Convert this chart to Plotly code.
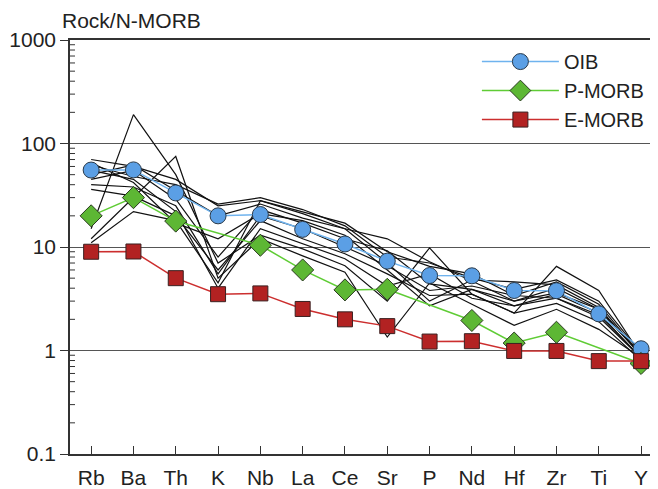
import plotly.graph_objects as go

elements = ["Rb", "Ba", "Th", "K", "Nb", "La", "Ce", "Sr", "P", "Nd", "Hf", "Zr", "Ti", "Y"]

oib = [55.4, 55.6, 33.3, 20.0, 20.6, 14.8, 10.7, 7.3, 5.3, 5.27, 3.8, 3.78, 2.26, 1.04]
p_morb = [20.0, 30.0, 17.8, None, 10.4, 6.0, 3.85, 3.9, None, 1.95, 1.18, 1.5, None, 0.75]
e_morb = [9.0, 9.05, 5.0, 3.5, 3.56, 2.52, 2.0, 1.72, 1.22, 1.23, 0.99, 0.99, 0.79, 0.79]

samples = [
    [70, 60, 45, 25, 28, 22, 17, 9.0, 6.5, 5.5, 3.4, 4.6, 2.8, 0.90],
    [62, 48, 40, 26, 30, 23, 16, 8.0, 7.0, 5.0, 3.9, 4.8, 3.0, 0.95],
    [50, 62, 35, 20, 26, 19, 15, 12, 7.2, 4.7, 3.0, 4.0, 2.5, 0.90],
    [45, 55, 29, 8.0, 23, 17, 12, 9.2, 4.4, 3.9, 2.7, 3.5, 2.3, 0.85],
    [40, 38, 25, 5.5, 20, 15, 10, 6.6, 3.8, 4.2, 3.4, 3.2, 2.1, 0.85],
    [36, 31, 20, 6.0, 18, 12, 8.6, 5.5, 3.4, 3.5, 2.3, 2.85, 1.9, 0.80],
    [55, 45, 22, 4.0, 15, 10.7, 7.7, 4.2, 5.5, 3.2, 2.7, 3.2, 2.2, 0.85],
    [15, 190, 50, 7.0, 13, 9.6, 6.6, 3.0, 9.8, 3.5, 2.3, 6.5, 3.8, 0.90],
    [12, 30, 75, 5.0, 12, 8.2, 5.7, 1.35, 4.5, 2.8, 1.75, 2.5, 1.6, 0.85],
    [11, 22, 18, 4.5, 28, 21, 15, 7.0, 3.0, 4.8, 4.6, 4.3, 2.6, 0.90],
    [65, 42, 17, 12, 21, 18, 13, 6.0, 2.7, 3.9, 3.0, 3.6, 2.5, 0.92],
]

FONT = "Liberation Sans, Arial, sans-serif"
TXT = "#222222"

fig = go.Figure()

for s in samples:
    fig.add_trace(go.Scatter(
        x=elements, y=s, mode="lines",
        line=dict(color="#111111", width=1.2),
        showlegend=False, hoverinfo="skip",
    ))

fig.add_trace(go.Scatter(
    x=elements, y=oib, mode="lines+markers", name="OIB",
    line=dict(color="#6fb3ee", width=1.5),
    marker=dict(symbol="circle", size=16, color="#5b9fe5",
                line=dict(color="#2a3a4a", width=1)),
))
fig.add_trace(go.Scatter(
    x=elements, y=p_morb, mode="lines+markers", name="P-MORB",
    connectgaps=True,
    line=dict(color="#5fcc35", width=1.5),
    marker=dict(symbol="diamond", size=17, color="#5db734",
                line=dict(color="#2a3a20", width=1)),
))
fig.add_trace(go.Scatter(
    x=elements, y=e_morb, mode="lines+markers", name="E-MORB",
    line=dict(color="#cc2e2e", width=1.5),
    marker=dict(symbol="square", size=15, color="#b22222",
                line=dict(color="#3a2020", width=1)),
))

# minor log ticks (2..9 in each decade), drawn inside the left axis
minor_vals = [m * 10 ** e for e in range(-1, 3) for m in range(2, 10)]
minor_shapes = [
    dict(type="line", xref="paper", yref="y", x0=0, x1=5 / 588,
         y0=v, y1=v, line=dict(color="#333333", width=1))
    for v in minor_vals
]

# page body adds an 8px offset, so the figure is sized to fit the window
fig.update_layout(
    width=650, height=481,
    margin=dict(l=62, r=0, t=32, b=35, autoexpand=False),
    paper_bgcolor="white", plot_bgcolor="white",
    font=dict(family=FONT, size=21, color=TXT),
    showlegend=True,
    legend=dict(
        x=0.692, y=0.995, xanchor="left", yanchor="top",
        bgcolor="rgba(0,0,0,0)", borderwidth=0,
        font=dict(family=FONT, size=20, color=TXT),
        itemwidth=77, tracegroupgap=0,
    ),
    xaxis=dict(
        type="category", categoryorder="array", categoryarray=elements,
        range=[-0.5, 13.4], automargin=False,
        showline=True, linecolor="#333333", linewidth=1.5, mirror=True,
        ticks="inside", ticklen=8, tickcolor="#333333", tickwidth=1.2,
        showgrid=False, zeroline=False,
        tickfont=dict(family=FONT, size=21, color=TXT),
        ticklabelstandoff=4,
    ),
    yaxis=dict(
        type="log", range=[-1, 3], automargin=False,
        tickmode="linear", tick0=0, dtick=1, exponentformat="none",
        showline=True, linecolor="#333333", linewidth=1.5,
        ticks="outside", ticklen=8, tickcolor="#333333", tickwidth=1.2,
        showgrid=True, gridcolor="#555555", gridwidth=1,
        zeroline=False,
        tickfont=dict(family=FONT, size=21, color=TXT),
    ),
    shapes=minor_shapes,
    annotations=[dict(
        text="Rock/N-MORB", xref="paper", yref="paper",
        x=-0.017, y=1, xanchor="left", yanchor="bottom", yshift=6,
        showarrow=False, font=dict(family=FONT, size=21, color=TXT),
    )],
)

fig.write_html("out.html")
